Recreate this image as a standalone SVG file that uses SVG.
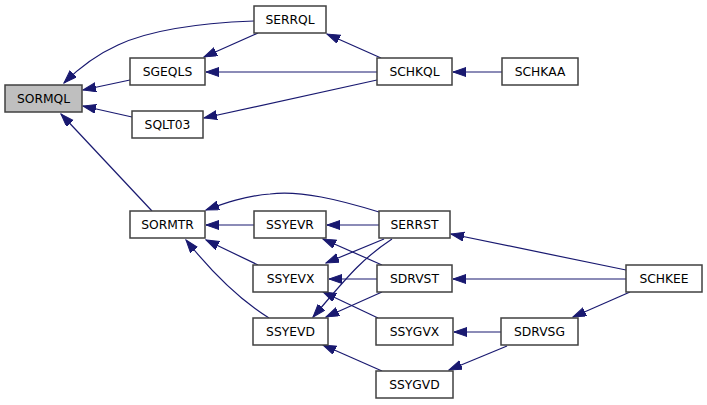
<svg xmlns="http://www.w3.org/2000/svg" width="707" height="405" viewBox="0 0 707 405">
<style>
.n rect{fill:#ffffff;stroke:#404040;stroke-width:1.5}
.n.root rect{fill:#bfbfbf}
.n text{font-family:"DejaVu Sans","Liberation Sans",sans-serif;font-size:12.3px;fill:#000000;text-anchor:middle}
#edges path{fill:none;stroke:#191970;stroke-width:1.2;marker-end:url(#ah)}
</style>
<defs>
<marker id="ah" markerUnits="userSpaceOnUse" markerWidth="14" markerHeight="10" refX="13" refY="4.5" orient="auto">
<path d="M0,0 L13,4.5 L0,9 z" fill="#191970" stroke="#191970" stroke-width="1"/>
</marker>
</defs>
<rect width="707" height="405" fill="#ffffff"/>
<g id="edges">
<path d="M254,21 C200,23 150,30 118,45 C98,54 80,67 64,83"/>
<path d="M130,80 L83,90"/>
<path d="M132,117 L83,106"/>
<path d="M152,211 L61,114"/>
<path d="M258,33 L204,57"/>
<path d="M381,58 L327,34"/>
<path d="M377,72 L206,72"/>
<path d="M377,80 L204,118"/>
<path d="M502,72 L453,72"/>
<path d="M379,212 C340,200 300,190 270,194 C245,196 225,203 206,210"/>
<path d="M254,225 L206,225"/>
<path d="M258,265 L206,240"/>
<path d="M269,318 C240,300 210,270 186,240"/>
<path d="M379,225 L327,225"/>
<path d="M384,239 L326,263"/>
<path d="M392,239 C360,260 345,280 313,317"/>
<path d="M382,265 L323,239"/>
<path d="M377,279 L329,279"/>
<path d="M382,292 L326,317"/>
<path d="M378,318 L323,292"/>
<path d="M382,371 L323,345"/>
<path d="M626,270 L451,234"/>
<path d="M626,279 L453,279"/>
<path d="M630,292 L573,317"/>
<path d="M501,332 L454,332"/>
<path d="M507,346 L449,370"/>
</g>
<g id="SORMQL" class="n root"><rect x="5" y="85" width="77" height="27"/><text x="43.5" y="102.5">SORMQL</text></g>
<g id="SERRQL" class="n"><rect x="254" y="6" width="72" height="27"/><text x="290" y="23.5">SERRQL</text></g>
<g id="SGEQLS" class="n"><rect x="130" y="58" width="75" height="27"/><text x="167.5" y="75.5">SGEQLS</text></g>
<g id="SQLT03" class="n"><rect x="132" y="111" width="71" height="27"/><text x="167.5" y="128.5">SQLT03</text></g>
<g id="SCHKQL" class="n"><rect x="377" y="58" width="75" height="27"/><text x="414.5" y="75.5">SCHKQL</text></g>
<g id="SCHKAA" class="n"><rect x="502" y="58" width="76" height="27"/><text x="540" y="75.5">SCHKAA</text></g>
<g id="SORMTR" class="n"><rect x="130" y="211" width="75" height="27"/><text x="167.5" y="228.5">SORMTR</text></g>
<g id="SSYEVR" class="n"><rect x="254" y="211" width="72" height="27"/><text x="290" y="228.5">SSYEVR</text></g>
<g id="SERRST" class="n"><rect x="379" y="211" width="71" height="27"/><text x="414.5" y="228.5">SERRST</text></g>
<g id="SSYEVX" class="n"><rect x="253" y="265" width="75" height="27"/><text x="290.5" y="282.5">SSYEVX</text></g>
<g id="SDRVST" class="n"><rect x="377" y="265" width="75" height="27"/><text x="414.5" y="282.5">SDRVST</text></g>
<g id="SSYEVD" class="n"><rect x="253" y="318" width="75" height="27"/><text x="290.5" y="335.5">SSYEVD</text></g>
<g id="SSYGVX" class="n"><rect x="376" y="318" width="77" height="27"/><text x="414.5" y="335.5">SSYGVX</text></g>
<g id="SSYGVD" class="n"><rect x="376" y="371" width="77" height="27"/><text x="414.5" y="388.5">SSYGVD</text></g>
<g id="SCHKEE" class="n"><rect x="626" y="265" width="76" height="27"/><text x="664" y="282.5">SCHKEE</text></g>
<g id="SDRVSG" class="n"><rect x="501" y="318" width="77" height="27"/><text x="539.5" y="335.5">SDRVSG</text></g>
</svg>
